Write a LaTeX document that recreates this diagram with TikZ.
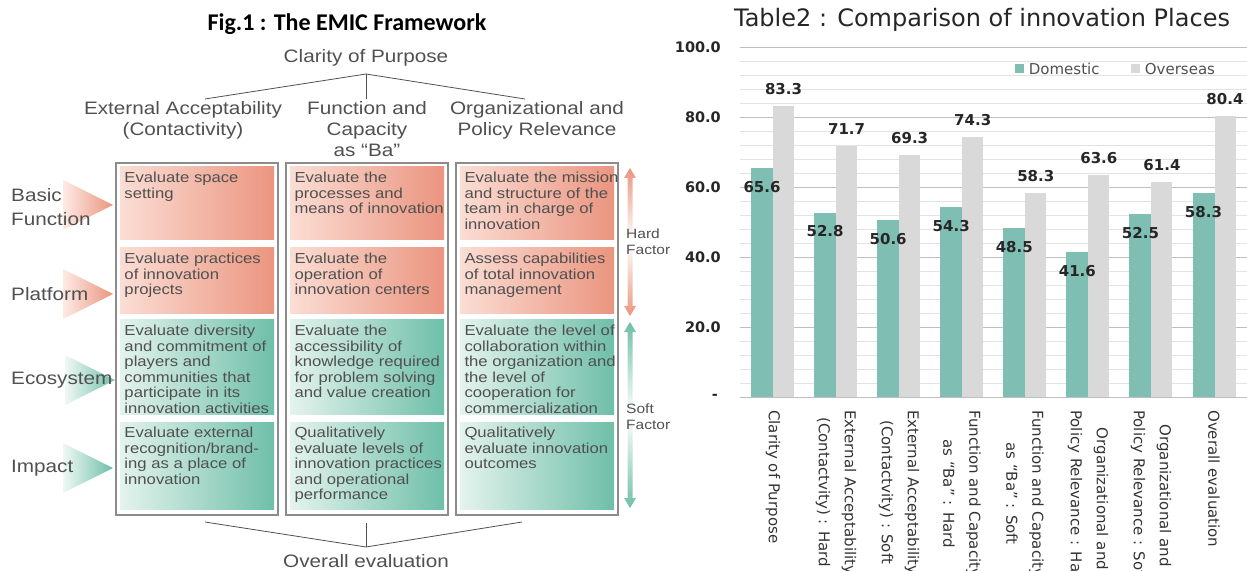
\documentclass[tikz,border=0pt]{standalone}
\usepackage{fontspec}
\setmainfont{Liberation Sans}
\newfontfamily\figfont[FakeStretch=1.15]{Liberation Sans}
\newfontfamily\chartfont{DejaVu Sans}
\newfontfamily\capfont{Carlito}
\usetikzlibrary{positioning}

\definecolor{txtgray}{HTML}{505050}
\definecolor{salmon}{HTML}{EA957F}
\definecolor{salmonlight}{HTML}{FBDDD4}
\definecolor{mint}{HTML}{6FBFA8}
\definecolor{mintlight}{HTML}{E4F3ED}
\definecolor{framegray}{HTML}{8C8C8C}
\definecolor{bardom}{HTML}{7FBFB3}
\definecolor{barover}{HTML}{D9D9D9}
\definecolor{gridmajor}{HTML}{BFBFBF}
\definecolor{gridminor}{HTML}{E3E3E3}

\begin{document}
\begin{tikzpicture}[x=1bp, y=-1bp, >=latex,
	figtxt/.style={font=\figfont\fontsize{18bp}{21bp}\selectfont, text=txtgray, align=center, inner sep=0pt},
	celltxt/.style={font=\figfont\fontsize{14.5bp}{15.5bp}\selectfont, text=txtgray, align=left, anchor=north west, inner sep=0pt},
	factortxt/.style={font=\figfont\fontsize{13.5bp}{16.5bp}\selectfont, text=txtgray, align=left, anchor=west, inner sep=0pt},
	colframe/.style={draw=framegray, line width=1.2bp, fill=white, minimum width=162bp, minimum height=352bp, inner sep=0pt},
	hardcell/.style={left color=salmonlight, right color=salmon, minimum width=154bp, inner sep=0pt},
	softcell/.style={left color=mintlight, right color=mint, minimum width=154bp, inner sep=0pt},
	treeline/.style={draw=txtgray, line width=0.8bp},
	ylab/.style={font=\chartfont\bfseries\fontsize{14.5bp}{16bp}\selectfont, text=black!85, anchor=east, inner sep=0pt},
	vallab/.style={font=\chartfont\bfseries\fontsize{15bp}{16bp}\selectfont, text=black!85, inner sep=0pt},
	xlab/.style={font=\chartfont\fontsize{15bp}{26bp}\selectfont, text=black!80, rotate=-90, anchor=west, align=center, inner sep=0pt},
	legtxt/.style={font=\chartfont\fontsize{15bp}{17bp}\selectfont, text=txtgray, inner sep=0pt}]

	\useasboundingbox (0,0) rectangle (1247,571);
	\clip (0,0) rectangle (1247,571);

	% Titel
	\node[font=\capfont\bfseries\fontsize{24bp}{28bp}\selectfont] (figtitle) at (347,24) {Fig.1 : The EMIC Framework};
	\node[font=\chartfont\fontsize{24bp}{27bp}\selectfont, text=black!85] (charttitle) at (982,20) {Table2 : Comparison of innovation Places};

	% Oberer Baum
	\node[figtxt] (purpose) at (366,58) {Clarity of Purpose};
	\coordinate (topfork) at (366,74);
	\coordinate (forkA) at (205,99);
	\coordinate (forkB) at (366,99);
	\coordinate (forkC) at (525,99);
	\draw[treeline] (topfork) -- (forkA);
	\draw[treeline] (topfork) -- (forkB);
	\draw[treeline] (topfork) -- (forkC);

	% Spaltenköpfe
	\node[figtxt, anchor=north] (headA) at (183,101) {External Acceptability\\(Contactivity)};
	\node[figtxt, anchor=north] (headB) at (367,101) {Function and\\Capacity\\as “Ba”};
	\node[figtxt, anchor=north] (headC) at (537,101) {Organizational and\\Policy Relevance};

	% Rahmen
	\node[colframe] (frameA) at (197,339) {};
	\node[colframe] (frameB) at (367,339) {};
	\node[colframe] (frameC) at (537,339) {};

	% Zeilenpfeile links
	\shade[left color=salmonlight!60, right color=salmon] (63,180) -- (113,205) -- (63,230) -- cycle;
	\shade[left color=salmonlight!60, right color=salmon] (63,269) -- (113,294) -- (63,319) -- cycle;
	\shade[left color=mintlight!60, right color=mint] (65,355) -- (115,380) -- (65,405) -- cycle;
	\shade[left color=mintlight!60, right color=mint] (63,443) -- (113,468) -- (63,493) -- cycle;
	\node[figtxt, align=left, anchor=west, font=\figfont\fontsize{18bp}{24bp}\selectfont] (rowbasic) at (11,207.5) {Basic\\Function};
	\node[figtxt, anchor=west] (rowplatform) at (11,294) {Platform};
	\node[figtxt, anchor=west] (rowecosystem) at (11,380) {Ecosystem};
	\node[figtxt, anchor=west] (rowimpact) at (11,468) {Impact};

	% Zellen, Spalte A
	\node[hardcell, minimum height=73bp] (cellA1) at (197,203.5) {};
	\node[hardcell, minimum height=65bp] (cellA2) at (197,280.5) {};
	\node[softcell, minimum height=94bp] (cellA3) at (197,367) {};
	\node[softcell, minimum height=87bp] (cellA4) at (197,465.5) {};
	\node[celltxt] (txtA1) at ([shift={(4.5,5)}]cellA1.north west) {Evaluate space\\setting};
	\node[celltxt] (txtA2) at ([shift={(4.5,5)}]cellA2.north west) {Evaluate practices\\of innovation\\projects};
	\node[celltxt] (txtA3) at ([shift={(4.5,5)}]cellA3.north west) {Evaluate diversity\\and commitment of\\players and\\communities that\\participate in its\\innovation activities};
	\node[celltxt] (txtA4) at ([shift={(4.5,5)}]cellA4.north west) {Evaluate external\\recognition/brand-\\ing as a place of\\innovation};

	% Zellen, Spalte B
	\node[hardcell, minimum height=73bp] (cellB1) at (367,203.5) {};
	\node[hardcell, minimum height=65bp] (cellB2) at (367,280.5) {};
	\node[softcell, minimum height=94bp] (cellB3) at (367,367) {};
	\node[softcell, minimum height=87bp] (cellB4) at (367,465.5) {};
	\node[celltxt] (txtB1) at ([shift={(4.5,5)}]cellB1.north west) {Evaluate the\\processes and\\means of innovation};
	\node[celltxt] (txtB2) at ([shift={(4.5,5)}]cellB2.north west) {Evaluate the\\operation of\\innovation centers};
	\node[celltxt] (txtB3) at ([shift={(4.5,5)}]cellB3.north west) {Evaluate the\\accessibility of\\knowledge required\\for problem solving\\and value creation};
	\node[celltxt] (txtB4) at ([shift={(4.5,5)}]cellB4.north west) {Qualitatively\\evaluate levels of\\innovation practices\\and operational\\performance};

	% Zellen, Spalte C
	\node[hardcell, minimum height=73bp] (cellC1) at (537,203.5) {};
	\node[hardcell, minimum height=65bp] (cellC2) at (537,280.5) {};
	\node[softcell, minimum height=94bp] (cellC3) at (537,367) {};
	\node[softcell, minimum height=87bp] (cellC4) at (537,465.5) {};
	\node[celltxt] (txtC1) at ([shift={(4.5,5)}]cellC1.north west) {Evaluate the mission\\and structure of the\\team in charge of\\innovation};
	\node[celltxt] (txtC2) at ([shift={(4.5,5)}]cellC2.north west) {Assess capabilities\\of total innovation\\management};
	\node[celltxt] (txtC3) at ([shift={(4.5,5)}]cellC3.north west) {Evaluate the level of\\collaboration within\\the organization and\\the level of\\cooperation for\\commercialization};
	\node[celltxt] (txtC4) at ([shift={(4.5,5)}]cellC4.north west) {Qualitatively\\evaluate innovation\\outcomes};

	% Hard / Soft Factor
	\shade[top color=salmon, bottom color=white] (627.5,242) -- (627.5,178) -- (624,178) -- (630,168) -- (636,178) -- (632.5,178) -- (632.5,242) -- cycle;
	\shade[top color=white, bottom color=salmon] (627.5,242) -- (627.5,306) -- (624,306) -- (630,316) -- (636,306) -- (632.5,306) -- (632.5,242) -- cycle;
	\shade[top color=mint, bottom color=white] (627.5,415) -- (627.5,332) -- (624,332) -- (630,322) -- (636,332) -- (632.5,332) -- (632.5,415) -- cycle;
	\shade[top color=white, bottom color=mint] (627.5,415) -- (627.5,498) -- (624,498) -- (630,508) -- (636,498) -- (632.5,498) -- (632.5,415) -- cycle;
	\node[factortxt] (hardfactor) at (626,241.5) {Hard\\Factor};
	\node[factortxt] (softfactor) at (626,416.5) {Soft\\Factor};

	% Unterer Baum
	\coordinate (botfork) at (366,547);
	\coordinate (joinA) at (205,522);
	\coordinate (joinB) at (366,523);
	\coordinate (joinC) at (522,522);
	\draw[treeline] (joinA) -- (botfork);
	\draw[treeline] (joinB) -- (botfork);
	\draw[treeline] (joinC) -- (botfork);
	\node[figtxt] (overall) at (366,561) {Overall evaluation};

	% Diagramm: Gitter
	\foreach \v in {4,8,...,96}
		\draw[gridminor, line width=0.8bp] (740,{397-3.494*\v}) -- (1247,{397-3.494*\v});
	\foreach \v in {20,40,...,100}
		\draw[gridmajor, line width=1bp] (740,{397-3.494*\v}) -- (1247,{397-3.494*\v});
	\draw[gridmajor, line width=1bp] (740,397) -- (1247,397);

	% Achsenbeschriftung
	\node[ylab] (ylab0) at (718,397) {-};
	\foreach \v/\t in {20/20.0, 40/40.0, 60/60.0, 80/80.0, 100/100.0}
		\node[ylab] (ylab\v) at (721,{397-3.494*\v}) {\t};

	% Balken
	\foreach \i/\d/\o in {1/65.6/83.3, 2/52.8/71.7, 3/50.6/69.3, 4/54.3/74.3, 5/48.5/58.3, 6/41.6/63.6, 7/52.5/61.4, 8/58.3/80.4} {
		\pgfmathsetmacro\cx{773+63.07*(\i-1)}
		\fill[bardom] (\cx-22,397) rectangle (\cx,{397-3.494*\d});
		\fill[barover] (\cx,397) rectangle (\cx+21,{397-3.494*\o});
		\node[vallab] (dom\i) at (\cx-11,{397-3.494*\d+19}) {\d};
		\node[vallab] (ovs\i) at (\cx+10.5,{397-3.494*\o-17}) {\o};
	}

	% Kategorien
	\node[xlab] (cat1) at (773,410) {Clarity of Purpose};
	\node[xlab] (cat2) at (836,410) {External Acceptability\\(Contactvity) : Hard};
	\node[xlab] (cat3) at (899,410) {External Acceptability\\(Contactvity) : Soft};
	\node[xlab] (cat4) at (962,410) {Function and Capacity\\as “Ba” : Hard};
	\node[xlab] (cat5) at (1025,410) {Function and Capacity\\as “Ba” : Soft};
	\node[xlab] (cat6) at (1088,410) {Organizational and\\Policy Relevance : Hard};
	\node[xlab] (cat7) at (1151,410) {Organizational and\\Policy Relevance : Soft};
	\node[xlab] (cat8) at (1214,410) {Overall evaluation};

	% Legende
	\node[fill=bardom, minimum size=9bp, inner sep=0pt] (legdom) at (1019,69) {};
	\node[legtxt, right=5bp of legdom] (legdomtxt) {Domestic};
	\node[fill=barover, minimum size=9bp, inner sep=0pt] (legovs) at (1135,69) {};
	\node[legtxt, right=5bp of legovs] (legovstxt) {Overseas};
\end{tikzpicture}
\end{document}
